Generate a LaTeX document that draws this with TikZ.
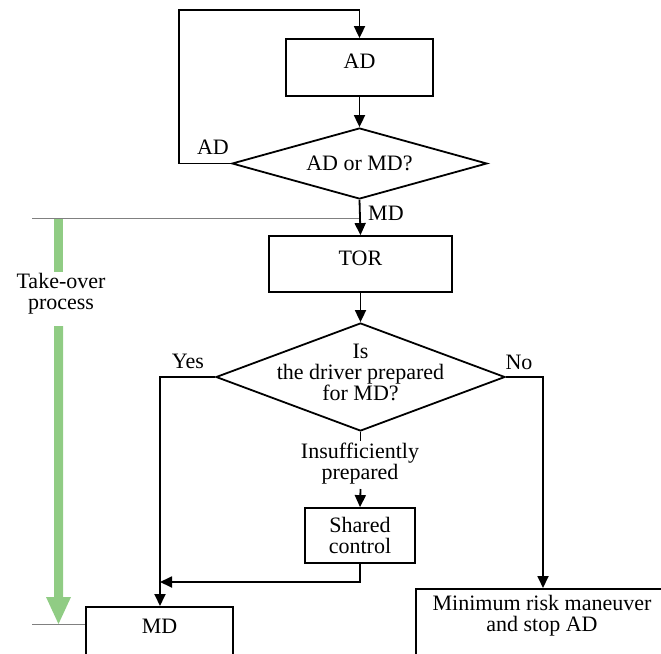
\documentclass[tikz,border=0pt]{standalone}
\usepackage{fontspec}
\setmainfont{Liberation Serif}
\usetikzlibrary{shapes.geometric,arrows.meta}
\definecolor{tgreen}{RGB}{144,204,132}
\definecolor{tgrey}{RGB}{128,128,128}
\tikzset{
  txt/.style={font=\fontsize{22}{21}\selectfont, inner sep=0pt, align=center},
  box/.style={draw, line width=1.8pt, inner sep=0pt},
  dia/.style={draw, diamond, line width=1.8pt, inner sep=0pt},
  flow/.style={line width=1.8pt, -{Triangle[length=12pt,width=11pt]}},
  plain/.style={line width=1.8pt},
  sep/.style={draw=tgrey, line width=1.3pt}
}
\begin{document}
\begin{tikzpicture}[x=1pt,y=-1pt]
\useasboundingbox (0,0) rectangle (661,653);
\clip (0,0) rectangle (661,653);
% boxes
\node[box, minimum width=147pt, minimum height=57pt] (ad) at (359.5,67.5) {};
\node[txt] (adt) at (359.5,61) {AD};
\node[dia, minimum width=255pt, minimum height=71pt] (d1) at (359.5,163.5) {};
\node[txt] (d1t) at (359.5,163) {AD or MD?};
\node[box, minimum width=183pt, minimum height=56pt] (tor) at (360.5,264) {};
\node[txt] (tort) at (360.5,258) {TOR};
\node[dia, minimum width=289pt, minimum height=108pt] (d2) at (360.5,377) {};
\node[txt] (d2t) at (360.5,372) {Is\\the driver prepared\\for MD?};
\node[box, minimum width=110pt, minimum height=55pt, txt, draw, line width=1.8pt] (sh) at (360,535.5) {Shared\\control};
\node[box, minimum width=147pt, minimum height=80pt, anchor=north] (md) at (159.5,606) {};
\node[txt] (mdt) at (159.5,626) {MD};
\node[box, minimum width=280pt, minimum height=90pt, anchor=north west] (mr) at (415,588) {};
\node[txt] (mrt) at (542,616) {Minimum risk maneuver\\and stop AD};
% labels
\node[txt] (lad) at (213,147) {AD};
\node[txt, anchor=west] (lmd) at (368,213) {MD};
\node[txt] (lyes) at (188,361) {Yes};
\node[txt] (lno) at (519,362) {No};
\node[txt] (lins) at (360,464) {Insufficiently\\prepared};
\node[txt] (ltk) at (61,293.5) {Take-over\\process};
% coordinates
\coordinate (c1) at (179,163.5);
\coordinate (c2) at (179,10);
\coordinate (c3) at (359.5,10);
\coordinate (y1) at (160,377);
\coordinate (n1) at (543,377);
\coordinate (i1) at (360.5,441);
\coordinate (i2) at (360.5,489);
\coordinate (s1) at (360,582);
\coordinate (s2) at (160,582);
\coordinate (g1) at (32,218.5);
\coordinate (g2) at (359.5,218.5);
\coordinate (g3) at (32,624.5);
% grey separators
\draw[sep] (g1) -- (g2);
\draw[sep] (g3) -- (md.west |- g3);
% green take-over arrow
\fill[tgreen] (54,218.5) rectangle (63,272);
\fill[tgreen] (54,326) -- (63,326) -- (63,597) -- (71,597) -- (58.5,624) -- (46,597) -- (54,597) -- cycle;
% connectors
\draw[flow] (d1.west) -- (c1) -- (c2) -- (c3) -- (ad.north);
\draw[flow] (ad.south) -- (d1.north);
\draw[flow] (d1.south) -- (tor.north);
\draw[flow] (tor.south) -- (d2.north);
\draw[flow] (d2.west) -- (y1) -- (md.north -| y1);
\draw[flow] (d2.east) -- (n1) -- (mr.north -| n1);
\draw[plain] (d2.south) -- (i1);
\draw[flow] (i2) -- (sh.north);
\draw[flow] (sh.south) -- (s1) -- (s2);
\end{tikzpicture}
\end{document}
